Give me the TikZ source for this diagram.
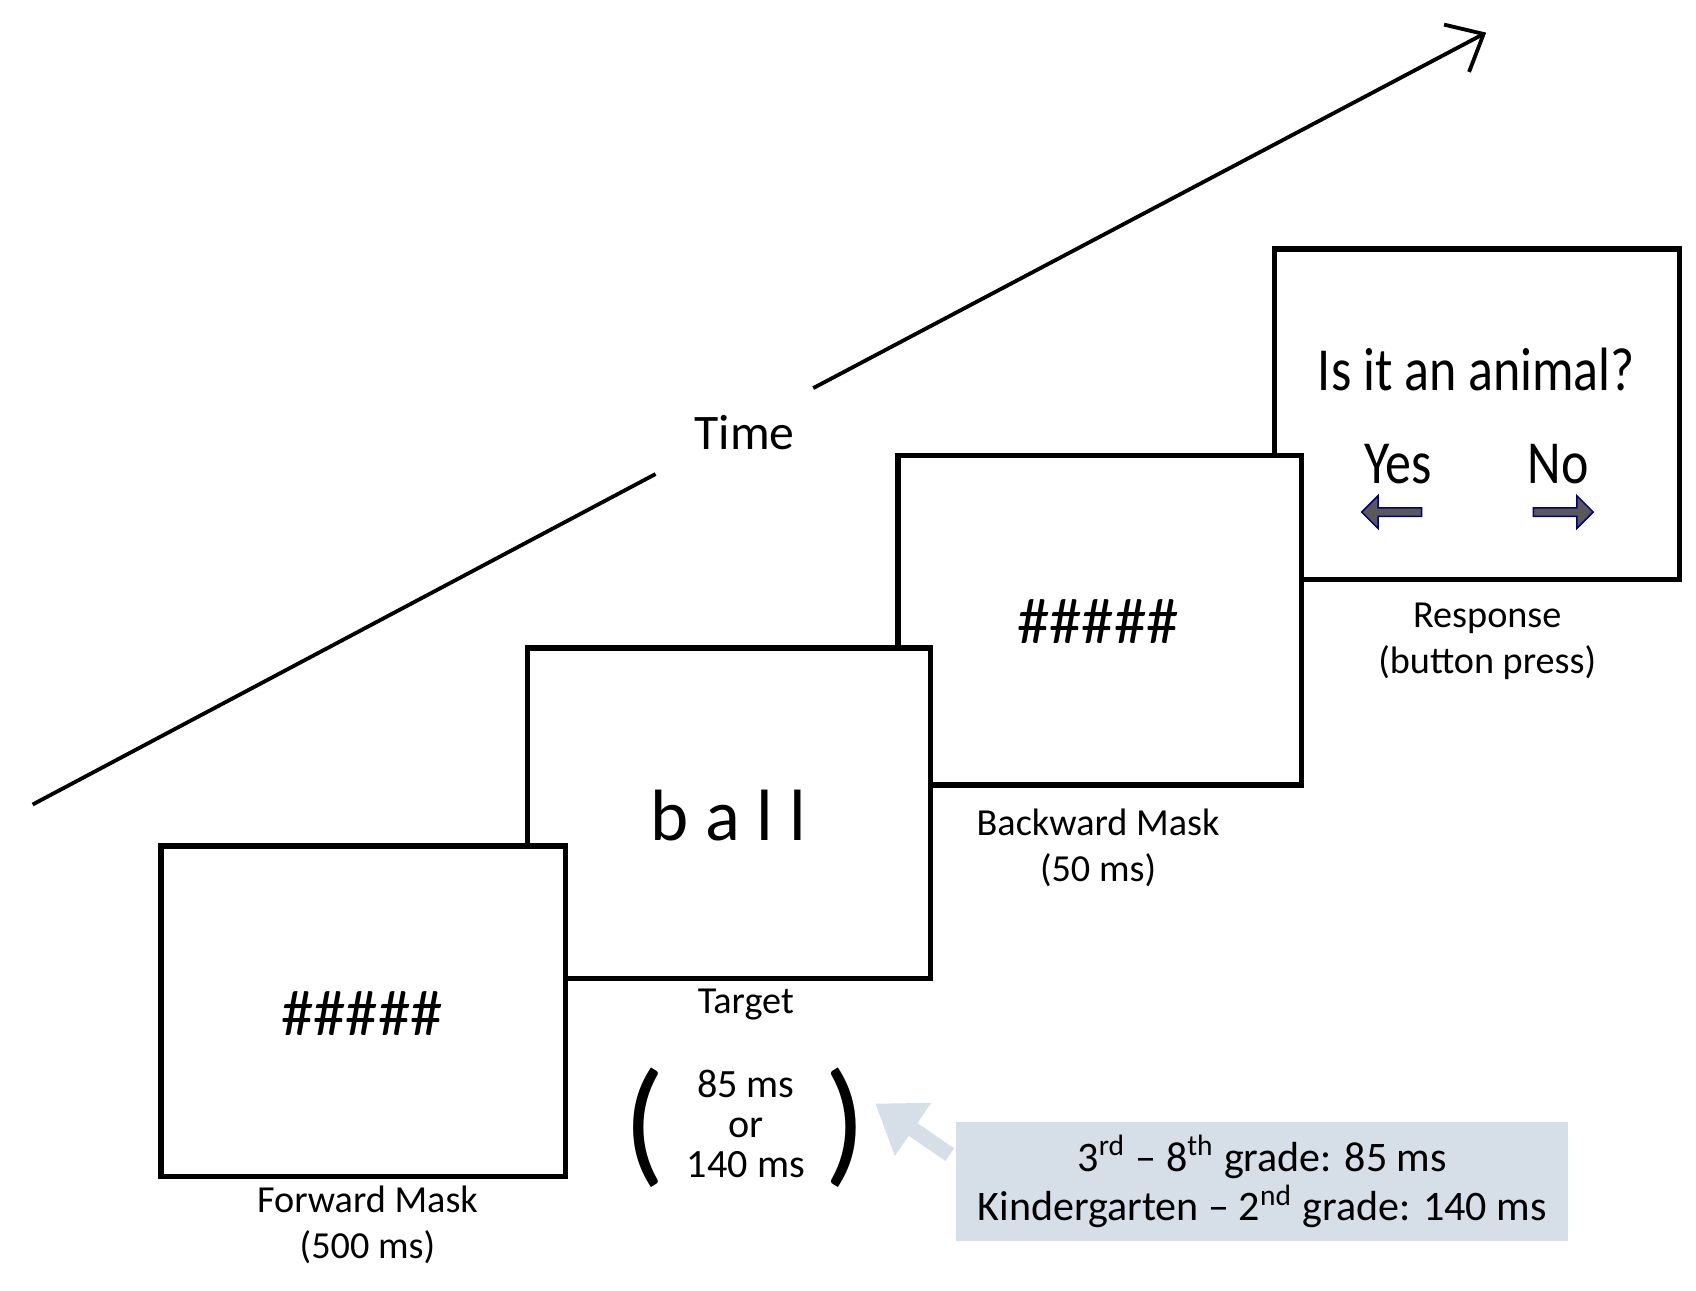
\documentclass[tikz,border=0pt]{standalone}
\usepackage{fontspec}
\setmainfont{Carlito}
\usetikzlibrary{shapes.arrows,arrows.meta}
\definecolor{notebg}{RGB}{214,222,232}

\begin{document}
\begin{tikzpicture}[x=0.01cm,y=-0.01cm,
    screen/.style={draw,line width=1.4pt,fill=white},
    lbl/.style={font=\fontsize{10}{12}\selectfont,align=center},
    big/.style={font=\fontsize{16}{18}\selectfont,xscale=0.85},
    btn/.style={single arrow,draw=blue!50!black,fill=black!65,minimum height=0.55cm,minimum width=0.3cm,single arrow head extend=0.07cm,inner sep=0.5pt}]
    \useasboundingbox (0,0) rectangle (1560,1187);

    % Time axis
    \coordinate (t0) at (30,740);
    \coordinate (t1) at (603,436);
    \coordinate (t2) at (748,357);
    \coordinate (t3) at (1367,30);
    \draw[line width=1pt] (t0) -- (t1);
    \draw[line width=1pt,-{Straight Barb[length=8pt,width=14pt]}] (t2) -- (t3);
    \node[font=\fontsize{13}{15}\selectfont] (time) at (685,398) {Time};

    % Screens (last drawn first)
    \draw[screen] (1172,229) rectangle (1545,533);
    \node[big] (q) at (1358,340) {Is it an animal?};
    \node[big] (yes) at (1286,427) {Yes};
    \node[big] (no) at (1433,427) {No};
    \node[btn,shape border rotate=180] (la) at (1282,471) {};
    \node[btn] (ra) at (1436,471) {};
    \node[lbl] (resp) at (1368,590) {Response\\(button press)};

    \draw[screen] (826,419) rectangle (1197,722);
    \node[font=\fontsize{17}{19}\selectfont] (bm) at (1010,572) {\#\#\#\#\#};
    \node[lbl] (bml) at (1010,780) {Backward Mask\\(50 ms)};

    \draw[screen] (485,596) rectangle (856,900);
    \node[font=\fontsize{19}{21}\selectfont] (word) at (670,750) {b a l l};
    \node[lbl] (tl) at (686,924) {Target};

    \draw[screen] (148,778) rectangle (520,1082);
    \node[font=\fontsize{17}{19}\selectfont] (fm) at (333,932) {\#\#\#\#\#};
    \node[lbl] (fml) at (338,1127) {Forward Mask\\(500 ms)};

    % Target durations
    \node[font=\fontsize{36}{40}\selectfont] (lp) at (593,1037) {(};
    \node[font=\fontsize{36}{40}\selectfont] (rp) at (778,1037) {)};
    \node[lbl,font=\fontsize{10.5}{10.5}\selectfont] (dur) at (686,1034) {85 ms\\or\\140 ms};

    % Grade note
    \node[fill=notebg,minimum width=5.63cm,minimum height=1.09cm,align=center,
          font=\fontsize{11}{13}\selectfont] (note) at (1161,1087)
          {3\textsuperscript{rd} -- 8\textsuperscript{th} grade: 85 ms\\Kindergarten -- 2\textsuperscript{nd} grade: 140 ms};
    \draw[line width=4pt,draw=notebg,-{Triangle[length=12pt,width=16pt]}]
        (note.west) ++(-5,-25) coordinate (n0) -- (805,1015) coordinate (n1);
\end{tikzpicture}
\end{document}
